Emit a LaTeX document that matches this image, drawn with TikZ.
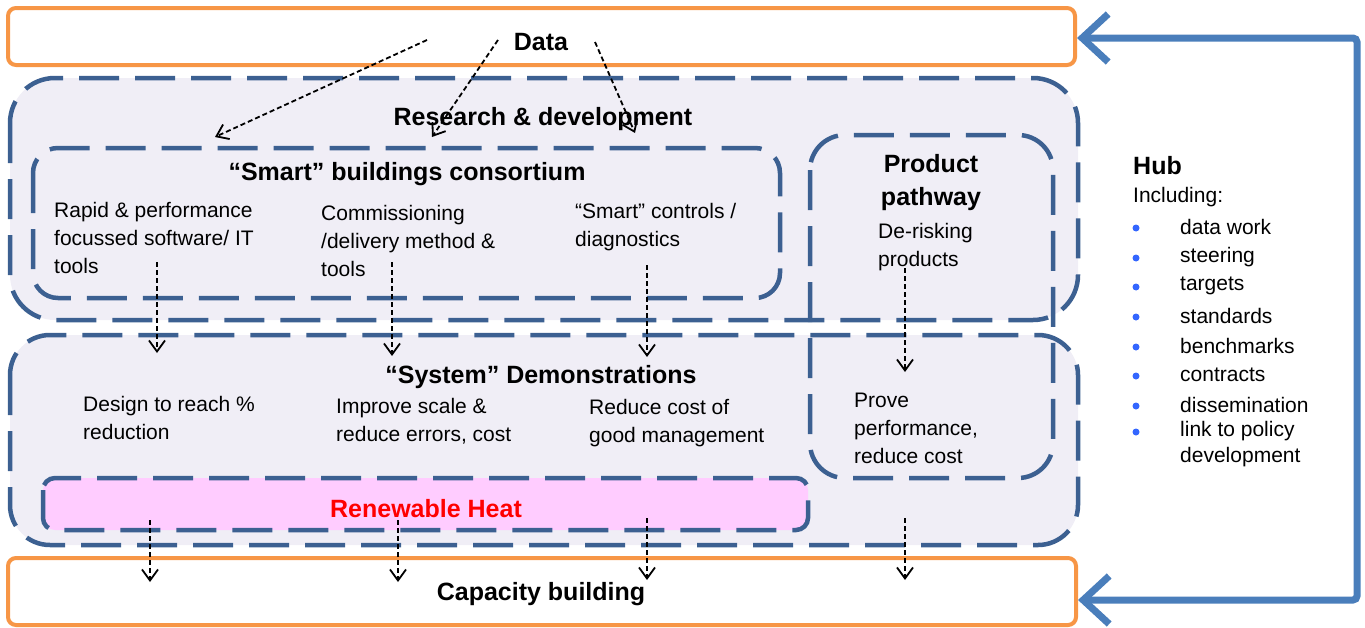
\documentclass[tikz,border=0pt]{standalone}
\usepackage{fontspec}
\setmainfont{Liberation Sans}
\usetikzlibrary{arrows.meta}
\definecolor{dashblue}{RGB}{60,96,145}
\definecolor{orangeedge}{RGB}{247,150,70}
\definecolor{lavender}{RGB}{240,238,246}
\definecolor{pinkfill}{RGB}{255,204,255}
\definecolor{hubblue}{RGB}{74,126,187}
\definecolor{dotblue}{RGB}{51,102,255}
\begin{document}
\begin{tikzpicture}[x=1pt,y=-1pt,
  every node/.style={font=\fontsize{21}{28}\selectfont,inner sep=0pt},
  heading/.style={font=\fontsize{25}{33}\selectfont\bfseries},
  dashgroup/.style={draw=dashblue,line width=4.5pt,dash pattern=on 40pt off 16pt},
  orangebox/.style={draw=orangeedge,line width=4pt,rounded corners=8pt},
  flow/.style={-{Straight Barb[length=11pt,width=16pt]},line width=1.8pt,dash pattern=on 5pt off 3pt},
  hubarrow/.style={{Straight Barb[length=26pt,width=48pt]}-{Straight Barb[length=26pt,width=48pt]},draw=hubblue,line width=7pt,rounded corners=4pt}]
  \useasboundingbox (0,0) rectangle (1365,627);
  % lavender groups
  \fill[lavender,rounded corners=45pt] (10,78) rectangle (1078,320);
  \fill[lavender,rounded corners=40pt] (10,335) rectangle (1078,545);
  \fill[pinkfill,rounded corners=12pt] (43,478) rectangle (808,530);
  \draw[dashgroup,rounded corners=45pt] (10,78) rectangle (1078,320);
  \draw[dashgroup,rounded corners=40pt] (10,335) rectangle (1078,545);
  \draw[dashgroup,rounded corners=25pt] (33,148) rectangle (780,298);
  \draw[dashgroup,rounded corners=35pt] (810,135) rectangle (1053,478);
  \draw[dashgroup,rounded corners=12pt] (43,478) rectangle (808,530);
  % orange boxes
  \node[orangebox,minimum width=1067pt,minimum height=57pt] (databox) at (541.5,36.5) {};
  \node[orangebox,minimum width=1068pt,minimum height=67pt] (capbox) at (542,591.5) {};
  % headings
  \node[heading] (data) at (541,42) {Data};
  \node[heading] (rd) at (543,119) {Research \& development};
  \node[heading] (smart) at (407,174) {“Smart” buildings consortium};
  \node[heading,align=center] (product) at (931,183) {Product\\pathway};
  \node[heading] (system) at (541,377) {“System” Demonstrations};
  \node[heading,text=red] (heat) at (426,509) {Renewable Heat};
  \node[heading] (capacity) at (541,594) {Capacity building};
  % body texts
  \node[anchor=north west,align=left] (software) at (54,202) {Rapid \& performance\\focussed software/ IT\\tools};
  \node[anchor=north west,align=left] (commission) at (321,205) {Commissioning\\/delivery method \&\\tools};
  \node[anchor=north west,align=left] (controls) at (575,203) {“Smart” controls /\\diagnostics};
  \node[anchor=north west,align=left] (derisk) at (878,223) {De-risking\\products};
  \node[anchor=north west,align=left] (design) at (83,396) {Design to reach \%\\reduction};
  \node[anchor=north west,align=left] (scale) at (336,398) {Improve scale \&\\reduce errors, cost};
  \node[anchor=north west,align=left] (manage) at (589,399) {Reduce cost of\\good management};
  \node[anchor=north west,align=left] (prove) at (854,393) {Prove\\performance,\\reduce cost};
  % hub
  \node[heading,anchor=west] (hub) at (1133,166) {Hub};
  \node[anchor=west] (including) at (1133,197) {Including:};
  \foreach \t/\y [count=\i] in {data work/227,steering/257,targets/286,standards/316,benchmarks/346,contracts/375,dissemination/405,link to policy/431}{
    \fill[dotblue] (1136,\y+1) circle (3.5pt);
    \node[anchor=west] (item\i) at (1180,\y) {\t};
  }
  \node[anchor=west] (itemend) at (1180,457) {development};
  % dashed arrows
  \coordinate (fromA) at (427,40); \coordinate (toA) at (215,137);
  \coordinate (fromB) at (498,40); \coordinate (toB) at (432,137);
  \coordinate (fromC) at (595,42); \coordinate (toC) at (635,133);
  \draw[flow] (fromA) -- (toA);
  \draw[flow] (fromB) -- (toB);
  \draw[flow] (fromC) -- (toC);
  \foreach \n/\x/\ya/\yb in {1/157/262/353,2/392/262/356,3/647/265/357,4/905/268/372,5/150/520/582,6/398/520/582,7/647/518/580,8/905/518/580}{
    \coordinate (top\n) at (\x,\ya); \coordinate (bot\n) at (\x,\yb);
    \draw[flow] (top\n) -- (bot\n);
  }
  % hub feedback arrow
  \coordinate (hubtop) at (1357,38); \coordinate (hubbot) at (1357,600);
  \draw[hubarrow] (databox.east |- hubtop) -- (hubtop) -- (hubbot) -- (capbox.east |- hubbot);
\end{tikzpicture}
\end{document}
